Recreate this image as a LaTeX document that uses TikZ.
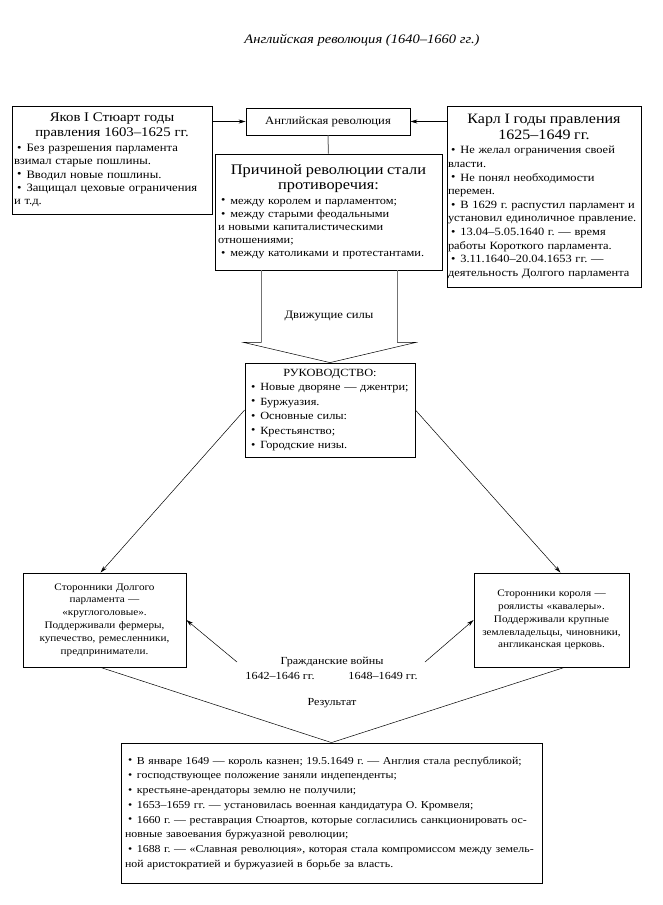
\documentclass[tikz,border=0pt]{standalone}
\usepackage{fontspec}
\usepackage{graphicx}
\setmainfont{Liberation Serif}[FakeStretch=1.12]
\usetikzlibrary{arrows.meta,calc}
\frenchspacing
\newcommand\bl{\hspace*{3pt}\raisebox{0.05ex}{\textbullet}\hspace{0.45em}}
\newcommand\hd[2][14]{\makebox[\hsize]{\fontsize{#1}{16}\selectfont #2}}
\begin{document}
\begin{tikzpicture}[x=1pt,y=-1pt,
  box/.style={draw, line width=0.8pt, inner sep=3pt, align=left, anchor=center},
  cbox/.style={draw, line width=0.8pt, inner sep=3pt, align=center, anchor=center},
  arr/.style={-{Stealth[length=7pt,width=4pt]}, line width=0.5pt},
  link/.style={line width=0.5pt},
  glink/.style={line width=1pt, black!55},
  lbl/.style={inner sep=0pt, font=\fontsize{10.8}{13}\selectfont}]
\useasboundingbox[fill=white] (0,0) rectangle (662,905);

\node[inner sep=0pt, font=\fontsize{13}{15}\selectfont\itshape] (title) at (362,40) {Английская революция (1640–1660 гг.)};

\node[box, minimum width=200pt, minimum height=108pt, text width=196pt, inner sep=2pt,
  font=\fontsize{11.3}{13.4}\selectfont] (yakov) at (112,160)
  {\hd[13.2]{Яков I Стюарт годы}\\[2pt]
   \hd[13.2]{правления 1603–1625 гг.}\\[1pt]
   \bl Без разрешения парламента\\
   взимал старые пошлины.\\
   \bl Вводил новые пошлины.\\
   \bl Защищал цеховые ограничения\\
   и т.д.};

\node[cbox, minimum width=164pt, minimum height=27pt,
  font=\fontsize{11.3}{13.4}\selectfont] (rev) at (328,121.5) {Английская революция};

\node[box, minimum width=194pt, minimum height=181pt, text width=192pt, inner sep=1pt,
  font=\fontsize{11.1}{13.6}\selectfont] (karl) at (544,196.5)
  {\hd[14.3]{Карл I годы правления}\\[2pt]
   \hd[14.3]{1625–1649 гг.}\\[1pt]
   \bl Не желал ограничения своей\\
   власти.\\
   \bl Не понял необходимости\\
   перемен.\\
   \bl В 1629 г. распустил парламент и\\
   установил единоличное правление.\\
   \bl 13.04–5.05.1640 г. — время\\
   работы Короткого парламента.\\
   \bl 3.11.1640–20.04.1653 гг. —\\
   деятельность Долгого парламента};

\node[box, minimum width=227pt, minimum height=116pt, text width=221pt,
  font=\fontsize{11}{13.2}\selectfont] (cause) at (328.5,212)
  {\hd[14.6]{Причиной революции стали}\\[2pt]
   \hd[14.6]{противоречия:}\\[1pt]
   \bl между королем и парламентом;\\
   \bl между старыми феодальными\\
   и новыми капиталистическими\\
   отношениями;\\
   \bl между католиками и протестантами.};

\node[box, minimum width=170pt, minimum height=94pt, text width=164pt, inner sep=3pt,
  font=\fontsize{11}{14.5}\selectfont] (lead) at (330,410)
  {\makebox[\hsize]{РУКОВОДСТВО:}\\
   \bl Новые дворяне — джентри;\\
   \bl Буржуазия.\\
   \bl Основные силы:\\
   \bl Крестьянство;\\
   \bl Городские низы.};

\node[cbox, minimum width=163pt, minimum height=94pt, text width=157pt,
  font=\fontsize{10}{12.9}\selectfont] (parl) at (104.5,620)
  {Сторонники Долгого\\ парламента —\\ «круглоголовые».\\ Поддерживали фермеры,\\ купечество, ремесленники,\\ предприниматели.};

\node[cbox, minimum width=155pt, minimum height=94pt, text width=149pt,
  font=\fontsize{10}{12.8}\selectfont] (king) at (551.5,620)
  {Сторонники короля —\\ роялисты «кавалеры».\\ Поддерживали крупные\\ землевладельцы, чиновники,\\ англиканская церковь.};

\node[box, minimum width=421pt, minimum height=140pt, text width=413pt, inner sep=4pt,
  font=\fontsize{10.6}{14.7}\selectfont] (result) at (331.5,813)
  {\bl В январе 1649 — король казнен; 19.5.1649 г. — Англия стала республикой;\\
   \bl господствующее положение заняли индепенденты;\\
   \bl крестьяне-арендаторы землю не получили;\\
   \bl 1653–1659 гг. — установилась военная кандидатура О. Кромвеля;\\
   \makebox[\hsize][s]{\bl 1660 г. — реставрация Стюартов, которые согласились санкционировать ос-}\\
   новные завоевания буржуазной революции;\\
   \makebox[\hsize][s]{\bl 1688 г. — «Славная революция», которая стала компромиссом между земель-}\\
   ной аристократией и буржуазией в борьбе за власть.};

% labels
\node[lbl, font=\fontsize{11.3}{13}\selectfont] (forces) at (329,316) {Движущие силы};
\node[lbl] (wars) at (332,662) {Гражданские войны};
\node[lbl] (w1) at (280,676) {1642–1646 гг.};
\node[lbl] (w2) at (383,676) {1648–1649 гг.};
\node[lbl] (res) at (332,703) {Результат};

% top connectors
\draw[arr] (yakov.east |- rev.west) -- (rev.west);
\draw[arr] (karl.west |- rev.east) -- (rev.east);
\draw[glink] (rev.south) -- (cause.north);

% block arrow
\coordinate (bl1) at ([xshift=-67pt]cause.south);
\coordinate (br1) at ([xshift=68.5pt]cause.south);
\coordinate (bl2) at ([yshift=-72pt]bl1);
\coordinate (br2) at ([yshift=-72pt]br1);
\coordinate (bl3) at ([xshift=-18pt]bl2);
\coordinate (br3) at ([xshift=19pt]br2);
\draw[glink] (bl1) -- (bl2);
\draw[glink] (br1) -- (br2);
\draw[link] (bl2) -- (bl3) -- (lead.north) -- (br3) -- (br2);

% leadership to parties
\draw[arr] (lead.west) -- ([xshift=-4pt]parl.north);
\draw[arr] (lead.east) -- ([xshift=9pt]king.north);

% civil wars
\coordinate (cw1) at (237,662);
\coordinate (cw2) at (425,662);
\draw[arr] (cw1) -- (parl.east);
\draw[arr] (cw2) -- (king.west);

% result
\draw[link] ([xshift=-4pt]parl.south) -- (result.north);
\draw[link] ([xshift=13pt]king.south) -- (result.north);
\end{tikzpicture}
\end{document}
